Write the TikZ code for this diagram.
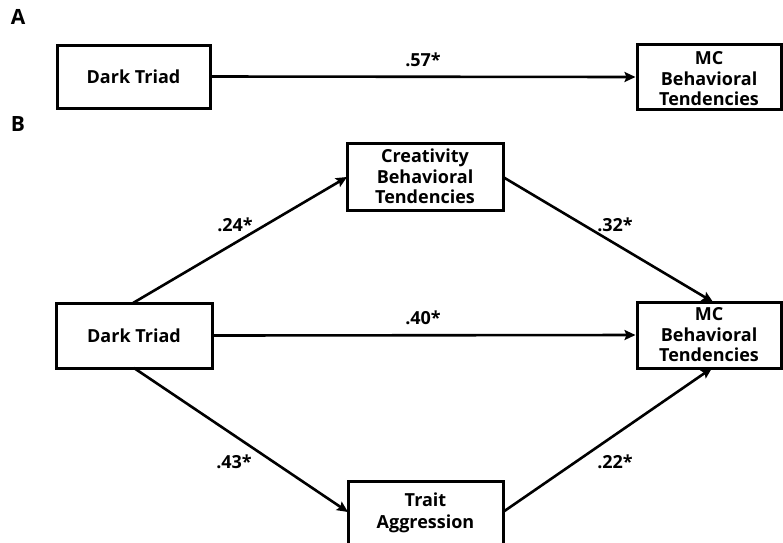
\documentclass[tikz,border=0pt]{standalone}
\usepackage{fontspec}
\setmainfont{Open Sans}
\usetikzlibrary{arrows.meta}
\begin{document}
\begin{tikzpicture}[x=1pt,y=-1pt,
  box/.style={draw,line width=3pt,fill=white,inner sep=0pt,align=center,
    font=\fontsize{18}{20.5}\selectfont\bfseries},
  lbl/.style={font=\fontsize{18}{20}\selectfont\bfseries},
  panel/.style={font=\fontsize{21}{24}\selectfont\bfseries},
  arr/.style={line width=2.6pt,-{Stealth[length=11pt,width=10pt,inset=2pt]}}]
\useasboundingbox (0,0) rectangle (783,542);
% Panel A
\node[panel] (la) at (18,17) {A};
\node[box,minimum width=153pt,minimum height=63pt] (dta) at (133.5,76.5) {Dark Triad};
\node[box,minimum width=144pt,minimum height=65pt] (mca) at (709,77) {};
\node[font=\fontsize{18}{20.5}\selectfont\bfseries,align=center] (mcat) at (709,79) {MC\\Behavioral\\Tendencies};
\draw[arr] (dta.east) -- (mca.west);
\node[lbl] (l57) at (423,60) {.57*};
% Panel B
\node[panel] (lb) at (18,124) {B};
\node[box,minimum width=156pt,minimum height=65pt] (dtb) at (134,335.5) {Dark Triad};
\node[box,minimum width=156pt,minimum height=67pt] (cr) at (425,176.5) {Creativity\\Behavioral\\Tendencies};
\node[box,minimum width=144pt,minimum height=66pt] (mcb) at (709,335) {MC\\Behavioral\\Tendencies};
\node[box,minimum width=155pt,minimum height=80pt,anchor=north] (ta) at (425.5,480) {};
\node[font=\fontsize{18}{22}\selectfont\bfseries,align=center] (tat) at (425.5,513) {Trait\\Aggression};
\coordinate (dtt) at (133,303);
\coordinate (dtbo) at (134,368);
\coordinate (crl) at (347,177);
\coordinate (crr) at (503,177);
\coordinate (mct) at (713,302);
\coordinate (mcbo) at (712,368);
\coordinate (tal) at (348,512);
\coordinate (tar) at (503,512);
\draw[arr] (dtt) -- (crl);
\draw[arr] (crr) -- (mct);
\draw[arr] (dtb.east) -- (mcb.west);
\draw[arr] (dtbo) -- (tal);
\draw[arr] (tar) -- (mcbo);
\node[lbl] (l24) at (235,225) {.24*};
\node[lbl] (l32) at (615,225) {.32*};
\node[lbl] (l40) at (423,318) {.40*};
\node[lbl] (l43) at (234,462) {.43*};
\node[lbl] (l22) at (615,462) {.22*};
\end{tikzpicture}
\end{document}
